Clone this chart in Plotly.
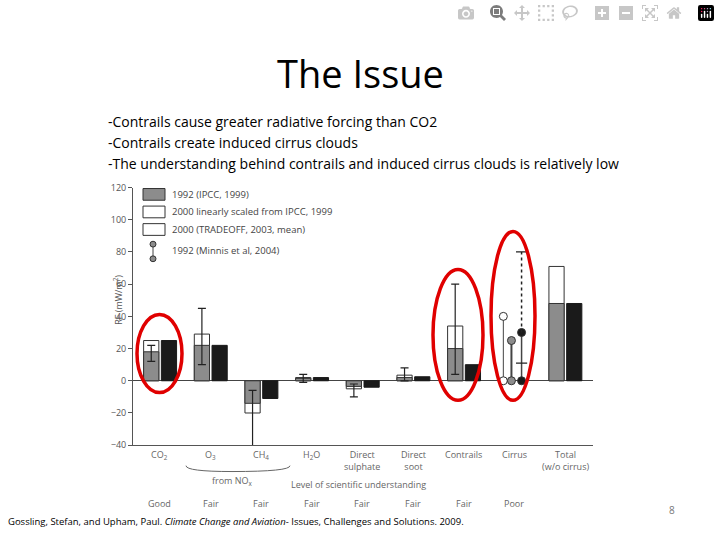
import plotly.graph_objects as go

cats = ["CO<sub>2</sub>", "O<sub>3</sub>", "CH<sub>4</sub>", "H<sub>2</sub>O", "Direct<br>sulphate",
        "Direct<br>soot", "Contrails", "Cirrus", "Total<br>(w/o cirrus)"]
loSU = ["Good", "Fair", "Fair", "Fair", "Fair", "Fair", "Fair", "Poor"]
ipcc1992 = [18, 22, -14, 1.5, -3.5, 2, 20, None, 48]
ipcc2000 = [25, 29, -20, 2, -5, 3.5, 34, None, 71]
tradeoff = [25, 22, -11, 2, -4, 2.5, 10, None, 48]
err_hi = [22, 45, -6, 4, -2, 8, 60]
err_lo = [12, 10, -42, -1, -10, 0, 4]
minnis_hi = [40, 25, 30]
minnis_lo = [0, 0, 0]
minnis_ext = 80
minnis_ticks = [11, 80]

W, H = 720, 540
X0, X1, Y0, Y1 = 133, 593, 185, 449
def px(x): return x / W
def py(y): return 1 - y / H

xs = list(range(len(cats)))
off_l, off_r, bw = -0.17, 0.18, 0.3
fig = go.Figure()
fig.add_bar(x=[x + off_l for x in xs], y=ipcc2000, width=bw, marker=dict(color="white", line=dict(color="#333", width=1)))
fig.add_bar(x=[x + off_l for x in xs], y=ipcc1992, width=bw, marker=dict(color="#8c8c8c", line=dict(color="#333", width=1)))
fig.add_bar(x=[x + off_r for x in xs], y=tradeoff, width=bw, marker=dict(color="#1a1a1a", line=dict(color="#1a1a1a", width=1)))
n = len(err_hi)
mid = [(a + b) / 2 for a, b in zip(err_hi, err_lo)]
fig.add_scatter(x=[x + off_l for x in xs[:n]], y=mid, mode="markers", marker=dict(size=0.1, color="rgba(0,0,0,0)"),
                error_y=dict(type="data", symmetric=False, array=[h - m for h, m in zip(err_hi, mid)],
                             arrayminus=[m - l for m, l in zip(mid, err_lo)], color="#222", thickness=1.2, width=4))
cx = 7
loffs = [-0.22, -0.06, 0.14]
fills = ["white", "#8c8c8c", "#1a1a1a"]
lws = [1, 2, 1.5]
for o, hi, lo, f, lw in zip(loffs, minnis_hi, minnis_lo, fills, lws):
    fig.add_scatter(x=[cx + o, cx + o], y=[lo, hi], mode="lines+markers",
                    line=dict(color="#444", width=lw), marker=dict(size=8, color=f, line=dict(color="#333", width=1)))
fig.add_scatter(x=[cx + loffs[2]] * 2, y=[minnis_hi[2], minnis_ext], mode="lines", line=dict(color="#222", width=1.5, dash="dot"))
fig.add_scatter(x=[cx + loffs[2]] * len(minnis_ticks), y=minnis_ticks, mode="markers",
                marker=dict(symbol="line-ew-open", size=8, color="#222", line=dict(color="#222", width=1.2)))

fig.update_layout(width=W, height=H, margin=dict(l=0, r=0, t=0, b=0), showlegend=False, barmode="overlay",
                  plot_bgcolor="white", paper_bgcolor="white", font=dict(family="Open Sans", color="#000"),
                  xaxis=dict(domain=[px(X0), px(X1)], range=[-0.53, 8.55], showticklabels=False, showgrid=False,
                             zeroline=False, showline=True, linecolor="#555", linewidth=1),
                  yaxis=dict(domain=[py(Y1), py(Y0)], range=[-40, 120], dtick=20, showgrid=False, zeroline=True,
                             zerolinecolor="#444", zerolinewidth=1, showline=True, linecolor="#555", ticks="outside",
                             ticklen=4, tickcolor="#555", tickfont=dict(size=9, color="#555"),
                             tickvals=[-40, -20, 0, 20, 40, 60, 80, 100, 120],
                             ticktext=["\u221240", "\u221220", "0", "20", "40", "60", "80", "100", "120"]))

def ann(x, y, t, size=10, color="#555", xanchor="center", **k):
    fig.add_annotation(x=px(x), y=py(y), xref="paper", yref="paper", text=t, showarrow=False,
                       font=dict(size=size, color=color), xanchor=xanchor, yanchor="middle", borderpad=0, **k)

for i, c in enumerate(cats):
    fig.add_annotation(x=i, y=py(451), xref="x", yref="paper", text=c, showarrow=False, yanchor="top", borderpad=0,
                       font=dict(size=9, color="#666"))
for i, s in enumerate(loSU):
    fig.add_annotation(x=i, y=py(509), xref="x", yref="paper", text=s, showarrow=False, yanchor="middle", borderpad=0,
                       font=dict(size=9, color="#666"))
ann(232, 486, "from NO<sub>x</sub>", 9, "#666")
ann(358, 489, "Level of scientific understanding", 9, "#666")
fig.add_shape(type="path", xref="paper", yref="paper", line=dict(color="#666", width=1),
              path=f"M {px(186)} {py(470)} Q {px(186)} {py(476)} {px(232)} {py(476)} Q {px(290)} {py(476)} {px(290)} {py(470)}")
ann(118, 300, "RF (mW/m<sup>2</sup>)", 9, "#555", textangle=-90)

labs = ["1992 (IPCC, 1999)", "2000 linearly scaled from IPCC, 1999", "2000 (TRADEOFF, 2003, mean)"]
lfill = ["#8c8c8c", "white", "white"]
for j, (l, f) in enumerate(zip(labs, lfill)):
    yc = 192 + j * 18
    fig.add_shape(type="rect", xref="paper", yref="paper", x0=px(143), x1=px(165), y0=py(yc - 6), y1=py(yc + 6),
                  fillcolor=f, line=dict(color="#333", width=1))
    ann(171, yc, l, 9.5, "#444", xanchor="left")
fig.add_shape(type="line", xref="paper", yref="paper", x0=px(153), x1=px(153), y0=py(243), y1=py(258), line=dict(color="#444", width=1))
for yy in (243, 258):
    fig.add_shape(type="circle", xref="paper", yref="paper", x0=px(150), x1=px(156), y0=py(yy - 3), y1=py(yy + 3),
                  fillcolor="#8c8c8c", line=dict(color="#333", width=1))
ann(171, 250, "1992 (Minnis et al, 2004)", 9.5, "#444", xanchor="left")

for (a, b, c, d) in [(137, 182, 315, 395), (433, 483, 269, 403), (491, 535, 230, 403)]:
    fig.add_shape(type="circle", xref="paper", yref="paper", x0=px(a), x1=px(b), y0=py(c), y1=py(d),
                  line=dict(color="#e00000", width=3.5))

ann(360, 68, "The Issue", 38, "#000")
for j, t in enumerate(["-Contrails cause greater radiative forcing than CO2",
                       "-Contrails create induced cirrus clouds",
                       "-The understanding behind contrails and induced cirrus clouds is relatively low"]):
    ann(107, 117 + j * 21.5, t, 14, "#000", xanchor="left")
ann(7, 527, "Gossling, Stefan, and Upham, Paul. <i>Climate Change and Aviation</i>- Issues, Challenges and Solutions. 2009.",
    9.5, "#000", xanchor="left")
ann(672, 515, "8", 10, "#777")

fig.write_html("out.html", post_script="document.body.style.margin='0px';document.body.style.padding='0px';")
